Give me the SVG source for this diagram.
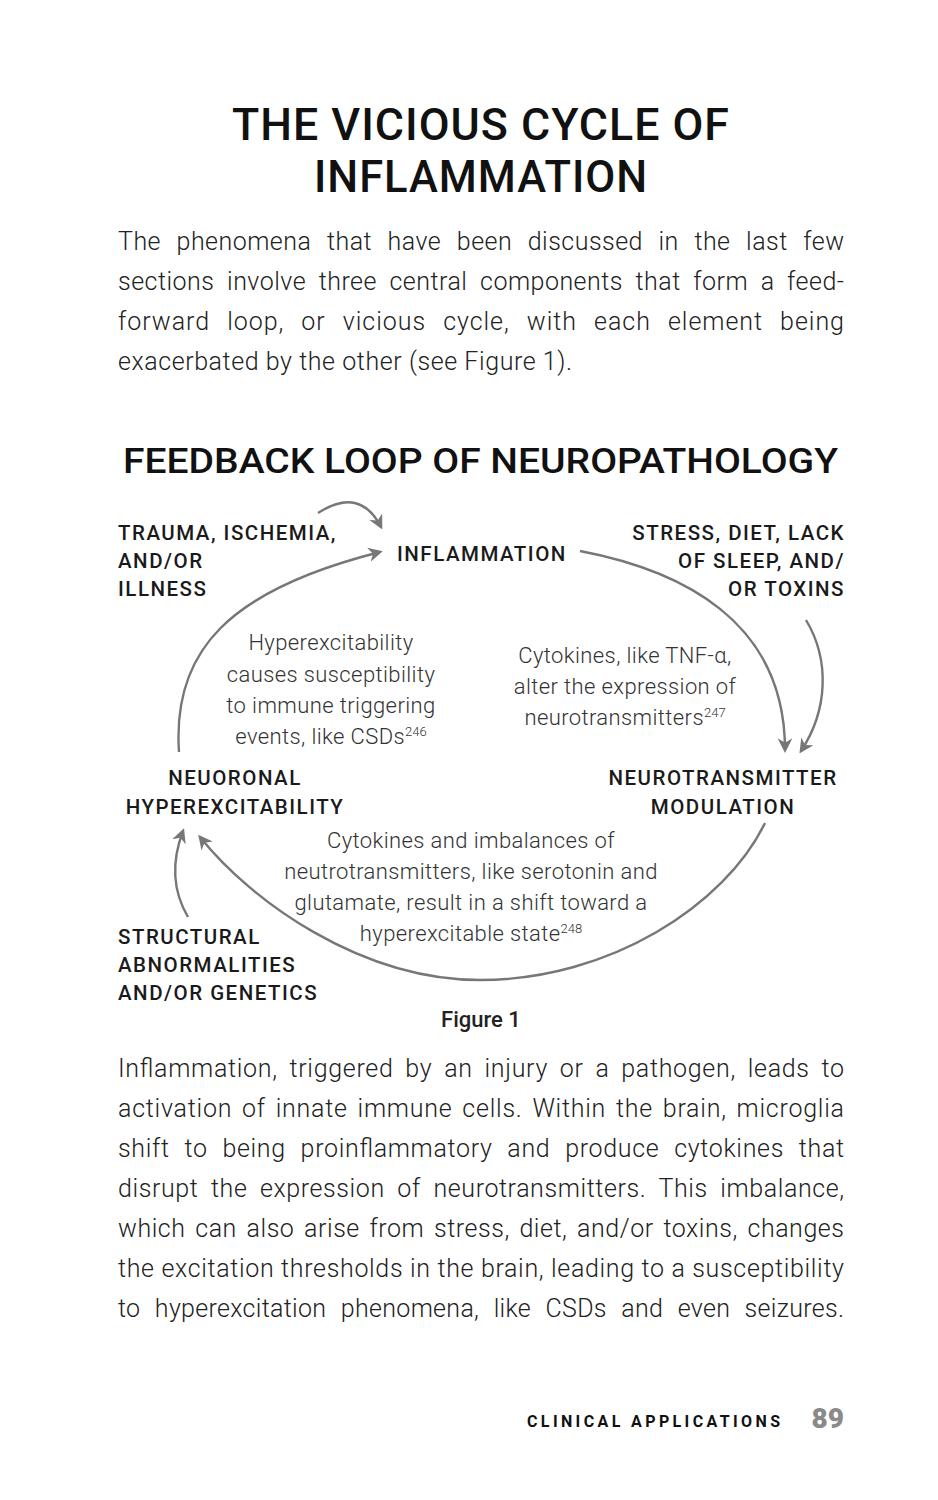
<svg xmlns="http://www.w3.org/2000/svg" width="938" height="1500" viewBox="0 0 938 1500">
<style>
.title{font-family:Roboto,"Liberation Sans",sans-serif;font-weight:500;font-size:45px;fill:#111;text-anchor:middle;letter-spacing:1px}
.sub{font-family:Roboto,"Liberation Sans",sans-serif;font-weight:500;font-size:35px;fill:#111}
.body{font-family:Roboto,"Liberation Sans",sans-serif;font-weight:300;font-size:25px;fill:#222}
.lab{font-family:Roboto,"Liberation Sans",sans-serif;font-weight:500;font-size:20.5px;fill:#1a1a1a;letter-spacing:1.5px}
.ann{font-family:Roboto,"Liberation Sans",sans-serif;font-weight:300;font-size:22px;fill:#333;text-anchor:middle;letter-spacing:0.4px}
.sup{font-size:13px;letter-spacing:0}
.fig{font-family:Roboto,"Liberation Sans",sans-serif;font-weight:500;font-size:22px;fill:#222;text-anchor:middle}
.conn path{fill:none;stroke:#777;stroke-width:2.4}
</style>
<defs>
<marker id="ah" viewBox="0 0 10 10" refX="8" refY="5" markerWidth="6" markerHeight="6" orient="auto" markerUnits="strokeWidth">
<path d="M0,0 L10,5 L0,10 L3,5 z" fill="#777"/>
</marker>
</defs>
<rect width="938" height="1500" fill="#fff"/>

<g id="heading">
<text class="title" x="481" y="140" textLength="498" lengthAdjust="spacingAndGlyphs">THE VICIOUS CYCLE OF</text>
<text class="title" x="481" y="192" textLength="334" lengthAdjust="spacingAndGlyphs">INFLAMMATION</text>
</g>

<g id="intro" class="body">
<text x="118" y="250" word-spacing="9" textLength="726" lengthAdjust="spacing">The phenomena that have been discussed in the last few</text>
<text x="118" y="290" word-spacing="6" textLength="726" lengthAdjust="spacing">sections involve three central components that form a feed-</text>
<text x="118" y="330" word-spacing="10" textLength="726" lengthAdjust="spacing">forward loop, or vicious cycle, with each element being</text>
<text x="118" y="370" textLength="454" lengthAdjust="spacing">exacerbated by the other (see Figure 1).</text>
</g>

<text id="figtitle" class="sub" x="123" y="473" textLength="715" lengthAdjust="spacingAndGlyphs">FEEDBACK LOOP OF NEUROPATHOLOGY</text>

<g id="connectors" class="conn">
<path d="M318,513 Q360,486 381,527" marker-end="url(#ah)"/>
<path d="M179,752 C172,650 230,590 380,552" marker-end="url(#ah)"/>
<path d="M580,551 C680,570 785,620 785,750" marker-end="url(#ah)"/>
<path d="M806,620 C830,660 828,710 801,751" marker-end="url(#ah)"/>
<path d="M765,823 C725,905 610,980 480,980 C360,980 250,900 200,837" marker-end="url(#ah)"/>
<path d="M188,917 C172,890 172,860 183,831" marker-end="url(#ah)"/>
</g>

<g id="trauma" class="lab">
<text x="118" y="540">TRAUMA, ISCHEMIA,</text>
<text x="118" y="568">AND/OR</text>
<text x="118" y="596">ILLNESS</text>
</g>

<g id="inflammation" class="lab">
<text x="397" y="561">INFLAMMATION</text>
</g>

<g id="stress" class="lab" text-anchor="end">
<text x="845" y="540">STRESS, DIET, LACK</text>
<text x="845" y="568">OF SLEEP, AND/</text>
<text x="845" y="596">OR TOXINS</text>
</g>

<g id="neuronal" class="lab" text-anchor="middle">
<text x="235" y="785">NEUORONAL</text>
<text x="235" y="814">HYPEREXCITABILITY</text>
</g>

<g id="neurotransmitter" class="lab" text-anchor="middle">
<text x="723" y="785">NEUROTRANSMITTER</text>
<text x="723" y="814">MODULATION</text>
</g>

<g id="structural" class="lab">
<text x="118" y="944">STRUCTURAL</text>
<text x="118" y="972">ABNORMALITIES</text>
<text x="118" y="1000">AND/OR GENETICS</text>
</g>

<g id="note-hyper" class="ann">
<text x="331" y="650">Hyperexcitability</text>
<text x="331" y="682">causes susceptibility</text>
<text x="331" y="713">to immune triggering</text>
<text x="331" y="744">events, like CSDs<tspan class="sup" dy="-8">246</tspan></text>
</g>

<g id="note-cytokines" class="ann">
<text x="625" y="663">Cytokines, like TNF-α,</text>
<text x="625" y="694">alter the expression of</text>
<text x="625" y="725">neurotransmitters<tspan class="sup" dy="-8">247</tspan></text>
</g>

<g id="note-imbalance" class="ann">
<text x="471" y="848">Cytokines and imbalances of</text>
<text x="471" y="879">neutrotransmitters, like serotonin and</text>
<text x="471" y="910">glutamate, result in a shift toward a</text>
<text x="471" y="941">hyperexcitable state<tspan class="sup" dy="-8">248</tspan></text>
</g>

<text id="caption" class="fig" x="481" y="1027">Figure 1</text>

<g id="body2" class="body">
<text x="118" y="1077" word-spacing="5" textLength="726" lengthAdjust="spacing">Inflammation, triggered by an injury or a pathogen, leads to</text>
<text x="118" y="1117" word-spacing="3" textLength="726" lengthAdjust="spacing">activation of innate immune cells. Within the brain, microglia</text>
<text x="118" y="1157" word-spacing="8" textLength="726" lengthAdjust="spacing">shift to being proinflammatory and produce cytokines that</text>
<text x="118" y="1197" word-spacing="6" textLength="726" lengthAdjust="spacing">disrupt the expression of neurotransmitters. This imbalance,</text>
<text x="118" y="1237" word-spacing="3" textLength="726" lengthAdjust="spacing">which can also arise from stress, diet, and/or toxins, changes</text>
<text x="118" y="1277" textLength="726" lengthAdjust="spacing">the excitation thresholds in the brain, leading to a susceptibility</text>
<text x="118" y="1317" word-spacing="8" textLength="726" lengthAdjust="spacing">to hyperexcitation phenomena, like CSDs and even seizures.</text>
</g>

<g id="footer">
<text x="527" y="1427" font-family="Roboto,'Liberation Sans',sans-serif" font-weight="700" font-size="16" fill="#111" textLength="253" lengthAdjust="spacing">CLINICAL APPLICATIONS</text>
<text x="844" y="1428" text-anchor="end" font-family="Roboto,'Liberation Sans',sans-serif" font-weight="900" font-size="28" fill="#8a8a8a">89</text>
</g>
</svg>
